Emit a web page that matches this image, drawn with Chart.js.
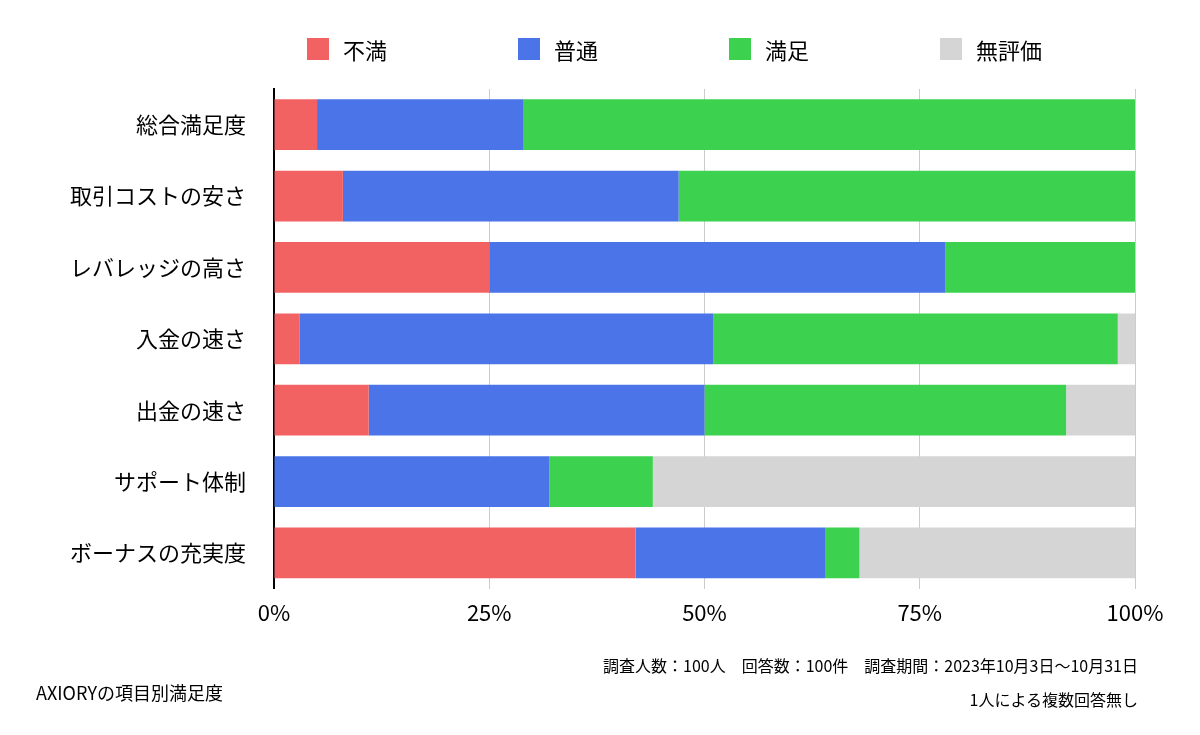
<!DOCTYPE html>
<html>
<head>
<meta charset="utf-8">
<script src="https://cdn.jsdelivr.net/npm/chart.js@4"></script>
<style>
  body { margin: 0; background: #fff; font-family: "Noto Sans CJK JP", sans-serif; color: #000; }
  #wrap { position: relative; width: 1200px; height: 735px; }
  #chart { position: absolute; left: 0; top: 0; }
  #legend { position: absolute; top: 33px; left: 307px; display: flex; }
  .item { width: 211px; display: flex; align-items: center; font-size: 22px; }
  .box { width: 22px; height: 22px; margin-right: 14px; }
  .note { position: absolute; font-size: 16px; white-space: nowrap; }
</style>
</head>
<body>
<div id="wrap">
  <canvas id="chart" width="1200" height="735"></canvas>
  <div id="legend"></div>
  <div class="note" style="right:62px; top:653px;">調査人数：100人　回答数：100件　調査期間：2023年10月3日〜10月31日</div>
  <div class="note" style="right:62px; top:687px;">1人による複数回答無し</div>
  <div class="note" style="left:36px; top:679px; font-size:18px;">AXIORYの項目別満足度</div>
</div>
<script>
const labels = ["総合満足度", "取引コストの安さ", "レバレッジの高さ", "入金の速さ", "出金の速さ", "サポート体制", "ボーナスの充実度"];
const fuman = [5, 8, 25, 3, 11, 0, 42];
const futsuu = [24, 39, 53, 48, 39, 32, 22];
const manzoku = [71, 53, 22, 47, 42, 12, 4];
const muhyouka = [0, 0, 0, 2, 8, 56, 32];
const seriesNames = ["不満", "普通", "満足", "無評価"];
const colors = ["#F26262", "#4A74E8", "#3DD150", "#D5D5D5"];

const legend = document.querySelector("#legend");
seriesNames.forEach((name, i) => {
    legend.innerHTML += '<div class="item"><span class="box" style="background:' + colors[i] + '"></span>' + name + '</div>';
});

const fontFamily = '"Noto Sans CJK JP", sans-serif';
var ctx = document.querySelector("#chart").getContext("2d");
var chart = new Chart(ctx, {
    type: "bar",
    data: {
        labels: labels,
        datasets: [fuman, futsuu, manzoku, muhyouka].map((d, i) => ({
            label: seriesNames[i],
            data: d,
            backgroundColor: colors[i],
            borderWidth: 0,
            categoryPercentage: 0.71,
            barPercentage: 1,
        })),
    },
    options: {
        indexAxis: "y",
        responsive: false,
        animation: false,
        layout: { padding: { top: 89, right: 65, bottom: 98, left: 0 } },
        scales: {
            x: {
                stacked: true,
                min: 0,
                max: 100,
                ticks: {
                    stepSize: 25,
                    callback: (v) => v + "%",
                    color: "#000",
                    font: { size: 22, family: fontFamily },
                    padding: 11,
                },
                grid: { color: "#CCCCCC", drawTicks: false },
                border: { display: false },
            },
            y: {
                stacked: true,
                ticks: {
                    color: "#000",
                    font: { size: 22, family: fontFamily },
                    padding: 28,
                },
                grid: { display: false, drawTicks: false },
                border: { color: "#000", width: 2 },
                afterFit: (s) => { s.width = 274; },
            },
        },
        plugins: {
            legend: { display: false },
            tooltip: { enabled: false },
        },
    },
});
</script>
</body>
</html>
